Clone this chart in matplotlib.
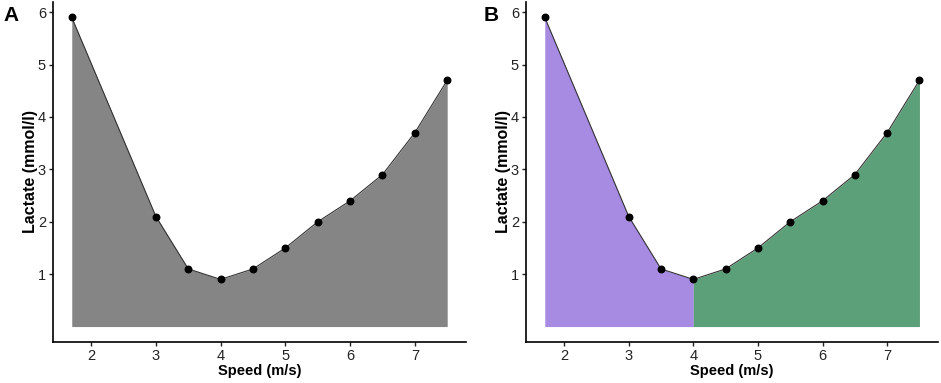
import numpy as np
import matplotlib.pyplot as plt

plt.rcParams['font.family'] = ['Liberation Sans', 'DejaVu Sans']

speed = np.array([1.7, 3, 3.5, 4, 4.5, 5, 5.5, 6, 6.5, 7, 7.5])
lactate = np.array([5.9, 2.1, 1.1, 0.9, 1.1, 1.5, 2.0, 2.4, 2.9, 3.7, 4.7])
split = 4.0
xticks = [2, 3, 4, 5, 6, 7]
yticks = [1, 2, 3, 4, 5, 6]

fig = plt.figure(figsize=(9.41, 3.83), dpi=100)
axA = fig.add_axes([0.0563, 0.107, 0.4389, 0.888])
axB = fig.add_axes([0.559, 0.107, 0.438, 0.888])


def style(ax):
    ax.set_xlim(1.41, 7.79)
    ax.set_ylim(-0.295, 6.195)
    ax.set_xticks(xticks)
    ax.set_yticks(yticks)
    for s in ['top', 'right']:
        ax.spines[s].set_visible(False)
    for s in ['left', 'bottom']:
        ax.spines[s].set_linewidth(1.2)
    ax.tick_params(length=3, width=1, labelsize=10.5, colors='#222222', pad=2)
    ax.set_xlabel('Speed (m/s)', fontweight='bold', fontsize=10.5, labelpad=1)
    ax.set_ylabel('Lactate (mmol/l)', fontweight='bold', fontsize=11.5, labelpad=0)


def curve(ax):
    ax.plot(speed, lactate, color='#333333', lw=0.8, zorder=3)
    ax.scatter(speed, lactate, s=22, color='black', zorder=4)


# panel A
axA.fill_between(speed, 0, lactate, color='#858585', lw=0)
curve(axA)
style(axA)

# panel B
left = speed <= split
right = speed >= split
axB.fill_between(speed[left], 0, lactate[left], color='#A78BE2', lw=0)
axB.fill_between(speed[right], 0, lactate[right], color='#5BA078', lw=0)
curve(axB)
style(axB)

fig.text(0.004, 0.945, 'A', fontsize=15, fontweight='bold')
fig.text(0.514, 0.945, 'B', fontsize=15, fontweight='bold')

fig.savefig('out.png', dpi=100)
